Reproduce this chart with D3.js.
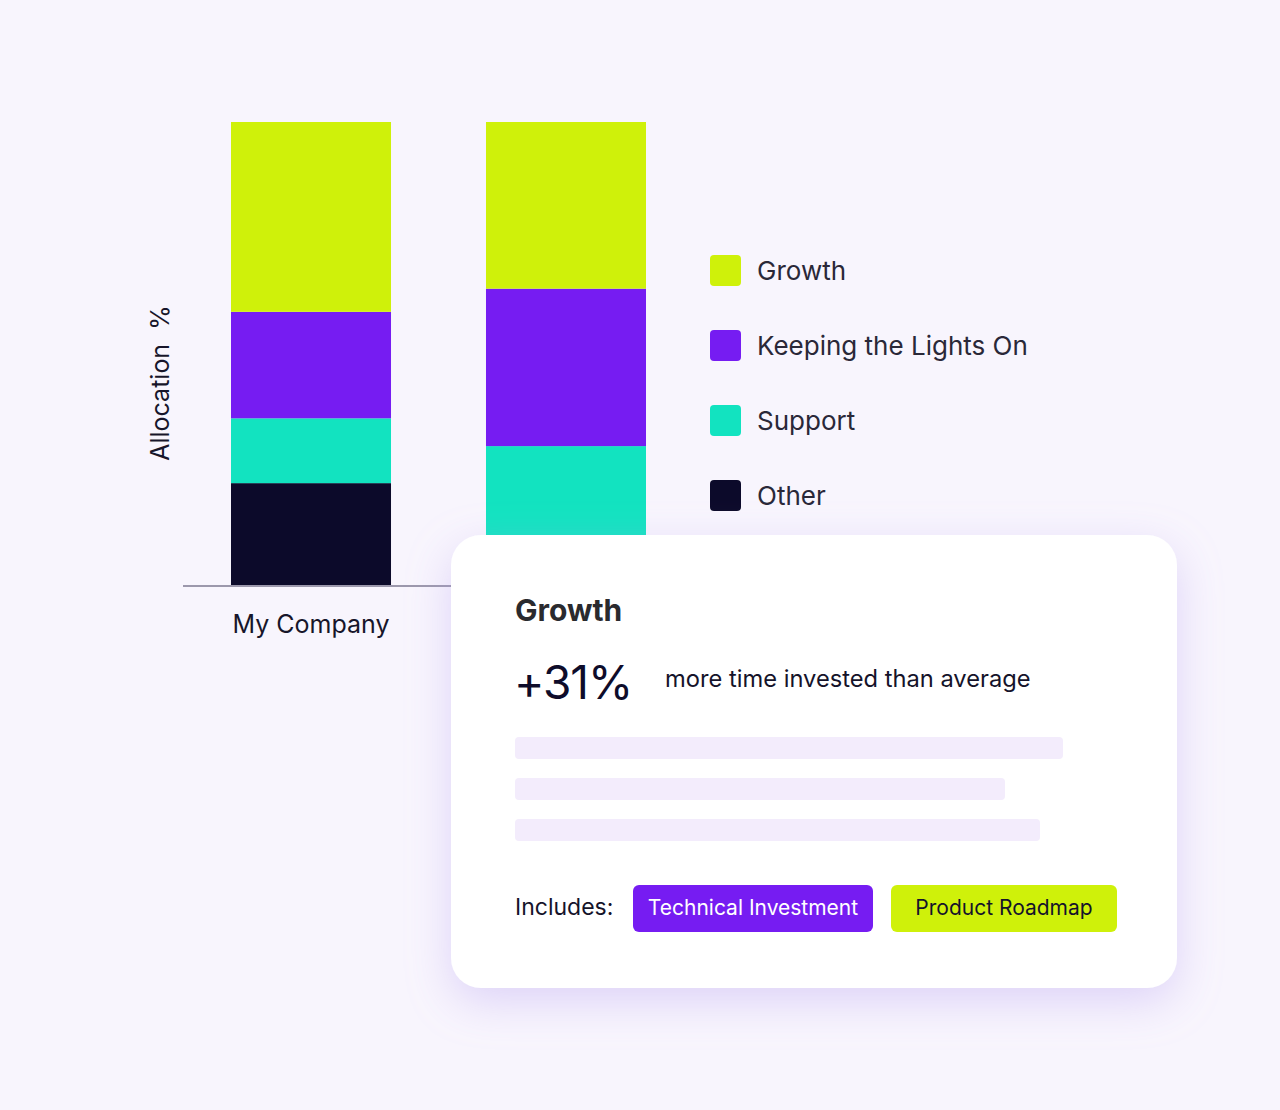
<!DOCTYPE html>
<html>
<head>
<meta charset="utf-8">
<script src="https://cdn.jsdelivr.net/npm/d3@7/dist/d3.min.js"></script>
<style>
  html, body { margin: 0; padding: 0; background: #F8F5FD; }
  svg { display: block; font-family: Inter, "Noto Sans", sans-serif; }
</style>
</head>
<body>
<svg id="chart" width="1280" height="1110"></svg>
<script>
// ---- data ----
const categories = ["My Company", "Industry Average"];
const visibleLabels = ["My Company"]; // second label is hidden behind the card in the reference
const seriesNames = ["Other", "Support", "Keeping the Lights On", "Growth"];
const otherValues = [22, 10];
const supportValues = [14, 20];
const ktloValues = [23, 34];
const growthValues = [41, 36];
const legendOrder = ["Growth", "Keeping the Lights On", "Support", "Other"];
const colors = {
  "Growth": "#CFF10A",
  "Keeping the Lights On": "#761CF2",
  "Support": "#12E3C0",
  "Other": "#0C0A2A"
};
const cardTitle = "Growth";
const cardStat = "+31%";
const cardStatText = "more time invested than average";
const skeletonWidths = [548, 490, 525];
const includesLabel = "Includes:";
const pills = [
  { label: "Technical Investment", bg: "#761CF2", fg: "#FFFFFF" },
  { label: "Product Roadmap", bg: "#CFF10A", fg: "#15132A" }
];

const table = categories.map((c, i) => ({
  category: c,
  "Other": otherValues[i],
  "Support": supportValues[i],
  "Keeping the Lights On": ktloValues[i],
  "Growth": growthValues[i]
}));

const svg = d3.select("#chart");

// shadow filter
const defs = svg.append("defs");
const f = defs.append("filter").attr("id", "shadow")
  .attr("x", "-20%").attr("y", "-20%").attr("width", "140%").attr("height", "150%");
f.append("feDropShadow").attr("dx", 0).attr("dy", 14).attr("stdDeviation", 22)
  .attr("flood-color", "#B29BF0").attr("flood-opacity", 0.38);

// scales
const x = d3.scaleBand().domain(categories).range([231, 646]).paddingInner(0.3725).paddingOuter(0);
const y = d3.scaleLinear().domain([0, 100]).range([585, 122]);

const stack = d3.stack().keys(seriesNames);
const stacked = stack(table);

svg.append("g").selectAll("g").data(stacked).join("g")
  .attr("fill", d => colors[d.key])
  .selectAll("rect").data(d => d).join("rect")
  .attr("x", d => x(d.data.category))
  .attr("width", x.bandwidth())
  .attr("y", d => y(d[1]))
  .attr("height", d => y(d[0]) - y(d[1]));

// baseline
svg.append("line")
  .attr("x1", 183).attr("x2", 700)
  .attr("y1", y(0) + 1).attr("y2", y(0) + 1)
  .attr("stroke", "#9C98AC").attr("stroke-width", 2);

// category labels
svg.append("g").selectAll("text").data(visibleLabels).join("text")
  .attr("x", d => x(d) + x.bandwidth() / 2)
  .attr("y", 633)
  .attr("text-anchor", "middle")
  .attr("font-size", 25)
  .attr("fill", "#17152A")
  .text(d => d);

// y-axis title
svg.append("text")
  .attr("transform", "translate(169,383) rotate(-90)")
  .attr("text-anchor", "middle")
  .attr("font-size", 25)
  .attr("fill", "#17152A")
  .attr("xml:space", "preserve")
  .text("Allocation  %");

// legend
const lg = svg.append("g").selectAll("g").data(legendOrder).join("g")
  .attr("transform", (d, i) => `translate(710,${255 + i * 75})`);
lg.append("rect").attr("width", 31).attr("height", 31).attr("rx", 4)
  .attr("fill", d => colors[d]);
lg.append("text").attr("x", 47).attr("y", 25)
  .attr("font-size", 26).attr("fill", "#2A2838")
  .text(d => d);

// card
const card = svg.append("g");
card.append("rect")
  .attr("x", 451).attr("y", 535).attr("width", 726).attr("height", 453)
  .attr("rx", 30).attr("fill", "#FFFFFF").attr("filter", "url(#shadow)");

card.append("text").attr("x", 515).attr("y", 621)
  .attr("font-size", 30).attr("font-weight", 700).attr("fill", "#2A2A2E")
  .text(cardTitle);

card.append("text").attr("x", 514).attr("y", 699)
  .attr("font-size", 46).attr("font-weight", 400).attr("fill", "#0E0C2A")
  .attr("letter-spacing", -1)
  .text(cardStat);

card.append("text").attr("x", 665).attr("y", 687)
  .attr("font-size", 23.7).attr("fill", "#15132A")
  .text(cardStatText);

card.append("g").selectAll("rect").data(skeletonWidths).join("rect")
  .attr("x", 515).attr("y", (d, i) => 737 + i * 41)
  .attr("width", d => d).attr("height", 22).attr("rx", 4)
  .attr("fill", "#F3ECFC");

card.append("text").attr("x", 515).attr("y", 915)
  .attr("font-size", 23).attr("fill", "#15132A")
  .text(includesLabel);

const pillX = [633, 891];
const pillW = [240, 226];
const pg = card.append("g").selectAll("g").data(pills).join("g")
  .attr("transform", (d, i) => `translate(${pillX[i]},885)`);
pg.append("rect").attr("width", (d, i) => pillW[i]).attr("height", 47).attr("rx", 6)
  .attr("fill", d => d.bg);
pg.append("text").attr("x", (d, i) => pillW[i] / 2).attr("y", 30)
  .attr("text-anchor", "middle").attr("font-size", 21)
  .attr("fill", d => d.fg)
  .text(d => d.label);
</script>
</body>
</html>
